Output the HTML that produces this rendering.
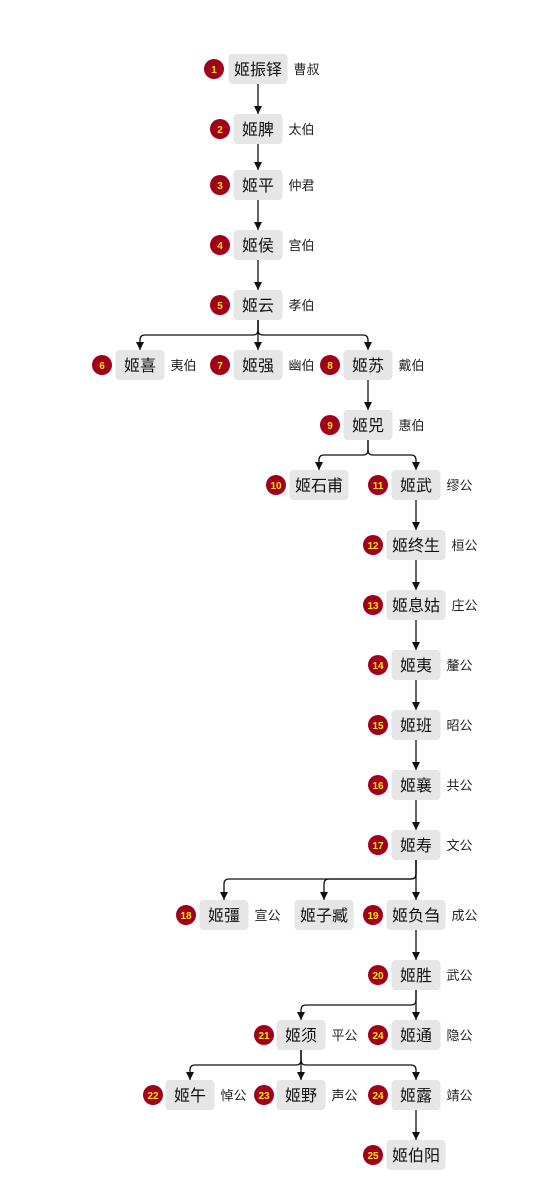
<!DOCTYPE html>
<html><head><meta charset="utf-8"><style>
html,body{margin:0;padding:0;background:#fff;width:551px;height:1201px;overflow:hidden}
svg{display:block}
.b{fill:#e6e6e6}
.n{font-family:"Liberation Sans","Noto Sans CJK SC",sans-serif;font-size:16px;fill:#111;text-anchor:middle}
.l{font-family:"Liberation Sans","Noto Sans CJK SC",sans-serif;font-size:13px;fill:#222}
.c{fill:#a0001c}
.d{font-family:"Liberation Sans",sans-serif;font-size:10px;font-weight:bold;fill:#ffe800;text-anchor:middle}
.e{fill:none;stroke:#111;stroke-width:1.3;marker-end:url(#a)}
</style></head><body>
<svg width="551" height="1201" viewBox="0 0 551 1201">
<defs><marker id="a" markerUnits="userSpaceOnUse" markerWidth="8" markerHeight="9" refX="8" refY="4" orient="auto"><path d="M0,0 L8,4 L0,8 z" fill="#111"/></marker></defs>
<g>
<path class="e" d="M258,84V114"/>
<path class="e" d="M258,144V170"/>
<path class="e" d="M258,200V230"/>
<path class="e" d="M258,260V290"/>
<path class="e" d="M258,320V350"/>
<path class="e" d="M258,320V330Q258,335 253,335H145Q140,335 140,340V350"/>
<path class="e" d="M258,320V330Q258,335 263,335H363Q368,335 368,340V350"/>
<path class="e" d="M368,380V410"/>
<path class="e" d="M368,440V450Q368,455 363,455H324Q319,455 319,460V470"/>
<path class="e" d="M368,440V450Q368,455 373,455H411Q416,455 416,460V470"/>
<path class="e" d="M416,500V530"/>
<path class="e" d="M416,560V590"/>
<path class="e" d="M416,620V650"/>
<path class="e" d="M416,680V710"/>
<path class="e" d="M416,740V770"/>
<path class="e" d="M416,800V830"/>
<path class="e" d="M416,860V900"/>
<path class="e" d="M416,860V874Q416,879 411,879H229Q224,879 224,884V900"/>
<path class="e" d="M416,860V874Q416,879 411,879H329Q324,879 324,884V900"/>
<path class="e" d="M416,930V960"/>
<path class="e" d="M416,990V1020"/>
<path class="e" d="M416,990V1000Q416,1005 411,1005H306Q301,1005 301,1010V1020"/>
<path class="e" d="M301,1050V1080"/>
<path class="e" d="M301,1050V1060Q301,1065 296,1065H195Q190,1065 190,1070V1080"/>
<path class="e" d="M301,1050V1060Q301,1065 306,1065H411Q416,1065 416,1070V1080"/>
<path class="e" d="M416,1110V1140"/>
</g>

<!-- 1 -->
<rect class="b" x="228.5" y="54" width="59" height="30" rx="4"/><text class="n" x="258" y="75">姬振铎</text>
<circle class="c" cx="214" cy="69" r="10"/><text class="d" x="214" y="73">1</text><text class="l" x="293.5" y="74">曹叔</text>
<!-- 2 -->
<rect class="b" x="233.5" y="114" width="49" height="30" rx="4"/><text class="n" x="258" y="135">姬脾</text>
<circle class="c" cx="220" cy="129" r="10"/><text class="d" x="220" y="133">2</text><text class="l" x="288.5" y="134">太伯</text>
<!-- 3 -->
<rect class="b" x="233.5" y="170" width="49" height="30" rx="4"/><text class="n" x="258" y="191">姬平</text>
<circle class="c" cx="220" cy="185" r="10"/><text class="d" x="220" y="189">3</text><text class="l" x="288.5" y="190">仲君</text>
<!-- 4 -->
<rect class="b" x="233.5" y="230" width="49" height="30" rx="4"/><text class="n" x="258" y="251">姬侯</text>
<circle class="c" cx="220" cy="245" r="10"/><text class="d" x="220" y="249">4</text><text class="l" x="288.5" y="250">宫伯</text>
<!-- 5 -->
<rect class="b" x="233.5" y="290" width="49" height="30" rx="4"/><text class="n" x="258" y="311">姬云</text>
<circle class="c" cx="220" cy="305" r="10"/><text class="d" x="220" y="309">5</text><text class="l" x="288.5" y="310">孝伯</text>
<!-- 6 -->
<rect class="b" x="115.5" y="350" width="49" height="30" rx="4"/><text class="n" x="140" y="371">姬喜</text>
<circle class="c" cx="102" cy="365" r="10"/><text class="d" x="102" y="369">6</text><text class="l" x="170.5" y="370">夷伯</text>
<!-- 7 -->
<rect class="b" x="233.5" y="350" width="49" height="30" rx="4"/><text class="n" x="258" y="371">姬强</text>
<circle class="c" cx="220" cy="365" r="10"/><text class="d" x="220" y="369">7</text><text class="l" x="288.5" y="370">幽伯</text>
<!-- 8 -->
<rect class="b" x="343.5" y="350" width="49" height="30" rx="4"/><text class="n" x="368" y="371">姬苏</text>
<circle class="c" cx="330" cy="365" r="10"/><text class="d" x="330" y="369">8</text><text class="l" x="398.5" y="370">戴伯</text>
<!-- 9 -->
<rect class="b" x="343.5" y="410" width="49" height="30" rx="4"/><text class="n" x="368" y="431">姬兕</text>
<circle class="c" cx="330" cy="425" r="10"/><text class="d" x="330" y="429">9</text><text class="l" x="398.5" y="430">惠伯</text>
<!-- 10 -->
<rect class="b" x="289.5" y="470" width="59" height="30" rx="4"/><text class="n" x="319" y="491">姬石甫</text>
<circle class="c" cx="276" cy="485" r="10"/><text class="d" x="276" y="489">10</text>
<!-- 11 -->
<rect class="b" x="391.5" y="470" width="49" height="30" rx="4"/><text class="n" x="416" y="491">姬武</text>
<circle class="c" cx="378" cy="485" r="10"/><text class="d" x="378" y="489">11</text><text class="l" x="446.5" y="490">缪公</text>
<!-- 12 -->
<rect class="b" x="386.5" y="530" width="59" height="30" rx="4"/><text class="n" x="416" y="551">姬终生</text>
<circle class="c" cx="373" cy="545" r="10"/><text class="d" x="373" y="549">12</text><text class="l" x="451.5" y="550">桓公</text>
<!-- 13 -->
<rect class="b" x="386.5" y="590" width="59" height="30" rx="4"/><text class="n" x="416" y="611">姬息姑</text>
<circle class="c" cx="373" cy="605" r="10"/><text class="d" x="373" y="609">13</text><text class="l" x="451.5" y="610">庄公</text>
<!-- 14 -->
<rect class="b" x="391.5" y="650" width="49" height="30" rx="4"/><text class="n" x="416" y="671">姬夷</text>
<circle class="c" cx="378" cy="665" r="10"/><text class="d" x="378" y="669">14</text><text class="l" x="446.5" y="670">釐公</text>
<!-- 15 -->
<rect class="b" x="391.5" y="710" width="49" height="30" rx="4"/><text class="n" x="416" y="731">姬班</text>
<circle class="c" cx="378" cy="725" r="10"/><text class="d" x="378" y="729">15</text><text class="l" x="446.5" y="730">昭公</text>
<!-- 16 -->
<rect class="b" x="391.5" y="770" width="49" height="30" rx="4"/><text class="n" x="416" y="791">姬襄</text>
<circle class="c" cx="378" cy="785" r="10"/><text class="d" x="378" y="789">16</text><text class="l" x="446.5" y="790">共公</text>
<!-- 17 -->
<rect class="b" x="391.5" y="830" width="49" height="30" rx="4"/><text class="n" x="416" y="851">姬寿</text>
<circle class="c" cx="378" cy="845" r="10"/><text class="d" x="378" y="849">17</text><text class="l" x="446.5" y="850">文公</text>
<!-- 18 -->
<rect class="b" x="199.5" y="900" width="49" height="30" rx="4"/><text class="n" x="224" y="921">姬彊</text>
<circle class="c" cx="186" cy="915" r="10"/><text class="d" x="186" y="919">18</text><text class="l" x="254.5" y="920">宣公</text>
<!-- zizang -->
<rect class="b" x="294.5" y="900" width="59" height="30" rx="4"/><text class="n" x="324" y="921">姬子臧</text>
<!-- 19 -->
<rect class="b" x="386.5" y="900" width="59" height="30" rx="4"/><text class="n" x="416" y="921">姬负刍</text>
<circle class="c" cx="373" cy="915" r="10"/><text class="d" x="373" y="919">19</text><text class="l" x="451.5" y="920">成公</text>
<!-- 20 -->
<rect class="b" x="391.5" y="960" width="49" height="30" rx="4"/><text class="n" x="416" y="981">姬胜</text>
<circle class="c" cx="378" cy="975" r="10"/><text class="d" x="378" y="979">20</text><text class="l" x="446.5" y="980">武公</text>
<!-- 21 -->
<rect class="b" x="276.5" y="1020" width="49" height="30" rx="4"/><text class="n" x="301" y="1041">姬须</text>
<circle class="c" cx="264" cy="1035" r="10"/><text class="d" x="264" y="1039">21</text><text class="l" x="331.5" y="1040">平公</text>
<!-- 24 tong -->
<rect class="b" x="391.5" y="1020" width="49" height="30" rx="4"/><text class="n" x="416" y="1041">姬通</text>
<circle class="c" cx="378" cy="1035" r="10"/><text class="d" x="378" y="1039">24</text><text class="l" x="446.5" y="1040">隐公</text>
<!-- 22 -->
<rect class="b" x="165.5" y="1080" width="49" height="30" rx="4"/><text class="n" x="190" y="1101">姬午</text>
<circle class="c" cx="153" cy="1095" r="10"/><text class="d" x="153" y="1099">22</text><text class="l" x="220.5" y="1100">悼公</text>
<!-- 23 -->
<rect class="b" x="276.5" y="1080" width="49" height="30" rx="4"/><text class="n" x="301" y="1101">姬野</text>
<circle class="c" cx="264" cy="1095" r="10"/><text class="d" x="264" y="1099">23</text><text class="l" x="331.5" y="1100">声公</text>
<!-- 24 lu -->
<rect class="b" x="391.5" y="1080" width="49" height="30" rx="4"/><text class="n" x="416" y="1101">姬露</text>
<circle class="c" cx="378" cy="1095" r="10"/><text class="d" x="378" y="1099">24</text><text class="l" x="446.5" y="1100">靖公</text>
<!-- 25 -->
<rect class="b" x="386.5" y="1140" width="59" height="30" rx="4"/><text class="n" x="416" y="1161">姬伯阳</text>
<circle class="c" cx="373" cy="1155" r="10"/><text class="d" x="373" y="1159">25</text>
</svg>
</body></html>
